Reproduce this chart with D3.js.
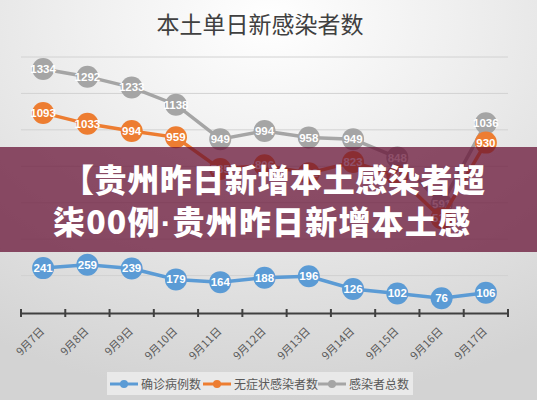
<!DOCTYPE html>
<html><head><meta charset="utf-8">
<script src="https://cdn.jsdelivr.net/npm/d3@7/dist/d3.min.js"></script>
<style>html,body{margin:0;padding:0;overflow:hidden;background:#fff}</style>
</head><body>
<svg id="c" width="537" height="400"></svg>
<script>
const dates = ["9月7日","9月8日","9月9日","9月10日","9月11日","9月12日","9月13日","9月14日","9月15日","9月16日","9月17日"];
const confirmed = [241,259,239,179,164,188,196,126,102,76,106];
const asymptomatic = [1093,1033,994,959,785,806,762,823,746,515,930];
const total = [1334,1292,1233,1138,949,994,958,949,848,591,1036];
const seriesNames = ["确诊病例数","无症状感染者数","感染者总数"];
const seriesColors = ["#5b9bd5","#ed7d31","#a5a5a5"];
const yTicks = [0,200,400,600,800,1000,1200,1400];
const titleText = "本土单日新感染者数";
const bannerLine1 = "【贵州昨日新增本土感染者超";
const bannerLine2a = "柒00例", bannerDot = "·", bannerLine2b = "贵州昨日新增本土感";

const svg = d3.select("#c");
const W = 537, H = 400;
const defs = svg.append("defs");
const rg = defs.append("radialGradient").attr("id","bg").attr("cx","0.5").attr("cy","0.05").attr("r","0.95");
rg.append("stop").attr("offset","0").attr("stop-color","#ffffff");
rg.append("stop").attr("offset","0.35").attr("stop-color","#f0f0f0");
rg.append("stop").attr("offset","1").attr("stop-color","#d3d3d3");
svg.append("rect").attr("width",W).attr("height",H).attr("fill","url(#bg)");

svg.append("text").attr("x",260).attr("y",33).attr("text-anchor","middle")
  .attr("font-family","'Noto Sans CJK SC'").attr("font-size",23).attr("fill","#404040").text(titleText);

const x = d3.scaleBand().domain(dates).range([21,508]);
const y = d3.scaleLinear().domain([0,1400]).range([312,57]);

// gridlines
svg.append("g").selectAll("line").data(yTicks.filter(d=>d>0)).join("line")
  .attr("x1",21).attr("x2",508).attr("y1",d=>y(d)).attr("y2",d=>y(d))
  .attr("stroke","#d2d2d2").attr("stroke-width",1);

// x axis
const ax = svg.append("g").attr("transform","translate(0,313)")
  .call(d3.axisBottom(x).tickSizeOuter(0).tickSize(0).tickFormat(""));
ax.select(".domain").attr("stroke","#404040").attr("stroke-width",2);
const bounds = d3.range(dates.length+1).map(i=>21+i*x.step());
svg.append("g").selectAll("line").data(bounds).join("line")
  .attr("x1",d=>d).attr("x2",d=>d).attr("y1",309).attr("y2",317)
  .attr("stroke","#404040").attr("stroke-width",2);
svg.append("g").selectAll("text").data(dates).join("text")
  .attr("transform",d=>`translate(${x(d)+x.bandwidth()/2+2},${332}) rotate(-45)`)
  .attr("text-anchor","end").attr("font-family","'Noto Sans CJK SC'").attr("font-size",11)
  .attr("fill","#595959").text(d=>d);

const cx = d => x(d)+x.bandwidth()/2;
const line = d3.line().x((d,i)=>cx(dates[i])).y(d=>y(d));
const allSeries = [total, asymptomatic, confirmed];
const colorsOrder = [seriesColors[2], seriesColors[1], seriesColors[0]];
allSeries.forEach((s,k)=>{
  const g = svg.append("g");
  g.append("path").datum(s).attr("d",line).attr("fill","none")
    .attr("stroke",colorsOrder[k]).attr("stroke-width",3.5);
  g.selectAll("circle").data(s).join("circle")
    .attr("cx",(d,i)=>cx(dates[i])).attr("cy",d=>y(d)).attr("r",11)
    .attr("fill",colorsOrder[k]);
  g.selectAll("text").data(s).join("text")
    .attr("x",(d,i)=>cx(dates[i])).attr("y",d=>y(d)+4)
    .attr("text-anchor","middle").attr("font-family","Arial, 'Liberation Sans'")
    .attr("font-weight","bold").attr("font-size",11.5).attr("fill","#fff").text(d=>d);
});

// legend
const lg = svg.append("g");
lg.append("rect").attr("x",107).attr("y",372).attr("width",306).attr("height",23).attr("fill","#e9e9e9");
const legendItems = [
  {name:seriesNames[0], color:seriesColors[0], x:110},
  {name:seriesNames[1], color:seriesColors[1], x:203},
  {name:seriesNames[2], color:seriesColors[2], x:318}
];
legendItems.forEach(it=>{
  lg.append("line").attr("x1",it.x).attr("x2",it.x+28).attr("y1",384).attr("y2",384)
    .attr("stroke",it.color).attr("stroke-width",3);
  lg.append("circle").attr("cx",it.x+14).attr("cy",384).attr("r",4).attr("fill",it.color);
  lg.append("text").attr("x",it.x+31).attr("y",388.5).attr("font-family","'Noto Sans CJK SC'")
    .attr("font-size",12).attr("fill","#595959").text(it.name);
});

// banner overlay
svg.append("rect").attr("x",0).attr("y",147).attr("width",W).attr("height",105)
  .attr("fill","rgb(102,15,51)").attr("fill-opacity",0.73);
svg.append("text").attr("x",62).attr("y",192).attr("font-family","'Noto Sans CJK SC'")
  .attr("font-weight","900").attr("font-size",32).attr("fill","#fff")
  .attr("textLength",423).attr("lengthAdjust","spacing").text(bannerLine1);
const t2 = svg.append("text").attr("x",53).attr("y",234).attr("font-family","'Noto Sans CJK SC'")
  .attr("font-weight","900").attr("font-size",32).attr("fill","#fff")
  .attr("textLength",417).attr("lengthAdjust","spacing");
t2.append("tspan").text(bannerLine2a);
t2.append("tspan").attr("font-family","'Liberation Sans', Arial").text(bannerDot);
t2.append("tspan").text(bannerLine2b);
</script>
</body></html>
